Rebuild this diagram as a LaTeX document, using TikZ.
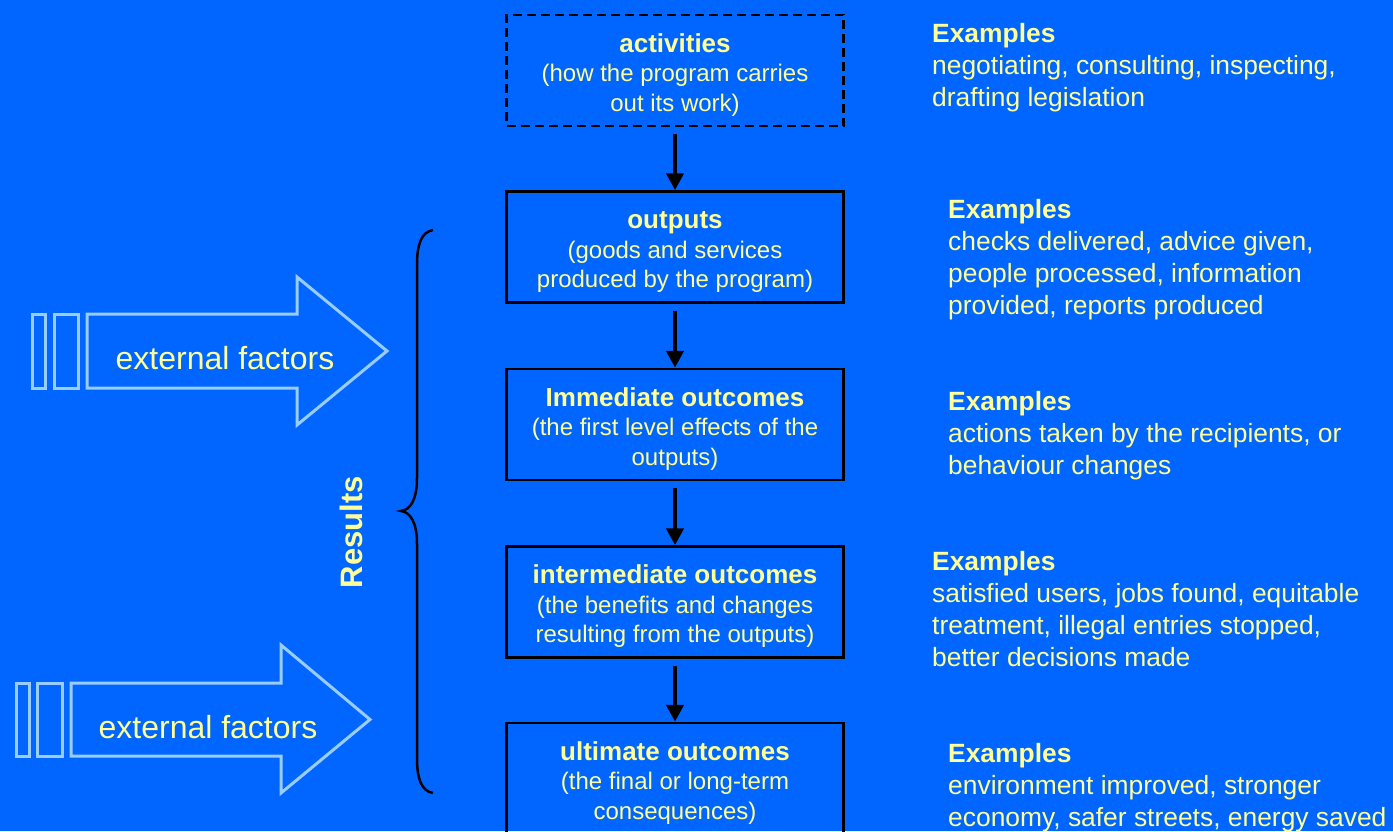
\documentclass[tikz,border=0pt]{standalone}
\usepackage{fontspec}
\setmainfont{Liberation Sans}
\usetikzlibrary{arrows.meta}
\definecolor{bgblue}{RGB}{0,102,255}
\definecolor{txtyellow}{RGB}{255,255,153}
\definecolor{ltblue}{RGB}{153,204,255}
\newcommand{\stagehead}[1]{{\fontsize{26}{29.5}\selectfont\bfseries\rule{0pt}{27pt}#1}}
\begin{document}
\begin{tikzpicture}[x=1pt,y=-1pt,
  stage/.style={draw=black, line width=2.5pt, minimum width=337pt, minimum height=111pt,
    inner sep=0pt, align=center, text=txtyellow, font=\fontsize{24}{29.5}\selectfont},
  flowarrow/.style={draw=black, line width=4.5pt, -{Triangle[width=17pt,length=17pt]}},
  exblock/.style={anchor=north west, inner sep=0pt, align=left, text=txtyellow,
    font=\fontsize{26.4}{32}\selectfont},
  extarrow/.style={draw=ltblue, line width=3pt, line join=miter},
  extlabel/.style={text=txtyellow, font=\fontsize{32}{38}\selectfont, inner sep=0pt},
  bracestyle/.style={draw=black, line width=2.5pt}
]
\fill[bgblue] (0,0) rectangle (1393,831);
\useasboundingbox (0,0) rectangle (1393,831);

% stages
\node[stage, dash pattern=on 9pt off 5pt] (act) at (675,70.5)
  {\stagehead{activities}\\(how the program carries\\out its work)};
\node[stage] (out) at (675,247)
  {\stagehead{outputs}\\(goods and services\\produced by the program)};
\node[stage] (imm) at (675,424.5)
  {\stagehead{Immediate outcomes}\\(the first level effects of the\\outputs)};
\node[stage] (int) at (675,602)
  {\stagehead{intermediate outcomes}\\(the benefits and changes\\resulting from the outputs)};
\node[stage] (ult) at (675,778.5)
  {\stagehead{ultimate outcomes}\\(the final or long-term\\consequences)};

% connectors
\draw[flowarrow] ([yshift=-7pt]act.south) -- (out.north);
\draw[flowarrow] ([yshift=-7pt]out.south) -- (imm.north);
\draw[flowarrow] ([yshift=-7pt]imm.south) -- (int.north);
\draw[flowarrow] ([yshift=-7pt]int.south) -- (ult.north);

% examples
\node[exblock] (ex1) at (932,19.6) {\textbf{Examples}\strut\\negotiating, consulting, inspecting,\\drafting legislation};
\node[exblock] (ex2) at (948,195.6) {\textbf{Examples}\strut\\checks delivered, advice given,\\people processed, information\\provided, reports produced};
\node[exblock] (ex3) at (948,387.6) {\textbf{Examples}\strut\\actions taken by the recipients, or\\behaviour changes};
\node[exblock] (ex4) at (932,547.6) {\textbf{Examples}\strut\\satisfied users, jobs found, equitable\\treatment, illegal entries stopped,\\better decisions made};
\node[exblock] (ex5) at (948,739.6) {\textbf{Examples}\strut\\environment improved, stronger\\economy, safer streets, energy saved};

% brace and Results
\draw[bracestyle] (433,230) .. controls (421,232) and (417,245) .. (417,265)
  -- (417,478) .. controls (417,500) and (410,510) .. (401,511)
  .. controls (410,512) and (417,522) .. (417,544)
  -- (417,758) .. controls (417,778) and (421,791) .. (433,793);
\node[text=txtyellow, font=\fontsize{31}{36}\selectfont\bfseries, rotate=90, inner sep=0pt] (res) at (351,532) {Results};

% external factors 1
\draw[extarrow] (32,314) rectangle (45,388);
\draw[extarrow] (54,314) rectangle (78,388);
\draw[extarrow] (87,314) -- (297,314) -- (297,277) -- (387,351) -- (297,425) -- (297,388) -- (87,388) -- cycle;
\node[extlabel] (ef1) at (225,358) {external factors};

% external factors 2
\draw[extarrow] (16,683) rectangle (29,756);
\draw[extarrow] (37,683) rectangle (62,756);
\draw[extarrow] (71,683) -- (281,683) -- (281,645) -- (370,719.5) -- (281,793) -- (281,756) -- (71,756) -- cycle;
\node[extlabel] (ef2) at (208,727) {external factors};
\end{tikzpicture}
\end{document}
